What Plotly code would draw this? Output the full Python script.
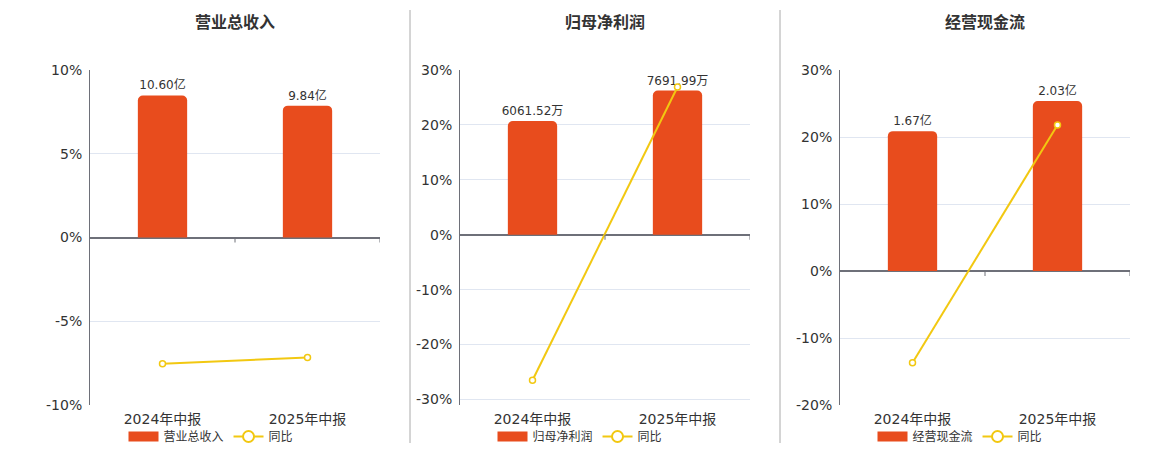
import plotly.graph_objects as go

categories = ["2024年中报", "2025年中报"]

titles = ["营业总收入", "归母净利润", "经营现金流"]

revenue = [10.60, 9.84]
revenue_labels = ["10.60亿", "9.84亿"]
revenue_yoy = [-7.53, -7.17]

profit = [6061.52, 7691.99]
profit_labels = ["6061.52万", "7691.99万"]
profit_yoy = [-26.5, 26.9]

cashflow = [1.67, 2.03]
cashflow_labels = ["1.67亿", "2.03亿"]
cashflow_yoy = [-13.7, 21.8]

pct_ranges = [[-10, 10], [-31, 30], [-20, 30]]
pct_ticks = [[-10, -5, 0, 5, 10], [-30, -20, -10, 0, 10, 20, 30], [-20, -10, 0, 10, 20, 30]]
bar_scale = [1.25, 292.9, 0.08]

OFF = 8  # page body margin
W, H = 1160 - OFF, 450 - OFF
BAR_COLOR = "#E84C1D"
LINE_COLOR = "#F2C811"
TEXT = "#333333"
AXIS = "#6E7079"
GRID = "#E0E6F1"
FONT = "DejaVu Sans, Noto Sans CJK SC, sans-serif"


def px(sx):
    return (sx - OFF) / W


def py(sy):
    return 1 - (sy - OFF) / H


panels = [
    (revenue, revenue_labels, revenue_yoy),
    (profit, profit_labels, profit_yoy),
    (cashflow, cashflow_labels, cashflow_yoy),
]
x_px = [(90, 380), (460, 750), (840, 1130)]
legend_cx = [211, 580, 960]
y_dom = [py(405), py(70)]

fig = go.Figure()
layout = {}
shapes = []
annotations = []

for i, ((vals, labels, yoy), (x0, x1)) in enumerate(zip(panels, x_px)):
    n = i + 1
    xa = "x" if n == 1 else f"x{n}"
    ybar = f"y{2 * n - 1}" if n > 1 else "y"
    ypct = f"y{2 * n}"
    xkey = "xaxis" if n == 1 else f"xaxis{n}"
    ybarkey = "yaxis" if n == 1 else f"yaxis{2 * n - 1}"
    ypctkey = f"yaxis{2 * n}"
    leg = "legend" if n == 1 else f"legend{n}"

    fig.add_trace(go.Bar(
        x=categories, y=vals, text=labels, textposition="outside",
        constraintext="none",
        textfont=dict(size=12, color=TEXT, family=FONT),
        marker=dict(color=BAR_COLOR, line=dict(width=0)),
        width=0.34, name=titles[i], xaxis=xa, yaxis=ybar,
        showlegend=False, cliponaxis=False, hoverinfo="skip",
    ))
    fig.add_trace(go.Scatter(
        x=categories, y=yoy, mode="lines+markers", name="同比",
        line=dict(color=LINE_COLOR, width=2),
        marker=dict(symbol="circle", size=6, color="white",
                    line=dict(color=LINE_COLOR, width=1.5)),
        xaxis=xa, yaxis=ypct, showlegend=False, hoverinfo="skip",
        cliponaxis=False,
    ))
    # legend entries
    fig.add_trace(go.Scatter(
        x=[None], y=[None], mode="lines", name=titles[i],
        line=dict(color=BAR_COLOR, width=13),
        xaxis=xa, yaxis=ypct, legend=leg, hoverinfo="skip",
    ))
    fig.add_trace(go.Scatter(
        x=[None], y=[None], mode="lines+markers", name="同比",
        line=dict(color=LINE_COLOR, width=2),
        marker=dict(symbol="circle", size=11, color="white",
                    line=dict(color=LINE_COLOR, width=2)),
        xaxis=xa, yaxis=ypct, legend=leg, hoverinfo="skip",
    ))

    pr = pct_ranges[i]
    layout[xkey] = dict(
        domain=[px(x0), px(x1)], anchor=ybar, type="category",
        range=[-0.5, 1.5], showgrid=False, showline=False, zeroline=False,
        ticks="", tickfont=dict(size=14, color=TEXT, family=FONT),
        ticklabelstandoff=4, automargin=False,
    )
    layout[ybarkey] = dict(
        domain=y_dom, anchor=xa,
        range=[pr[0] * bar_scale[i], pr[1] * bar_scale[i]],
        visible=False, showgrid=False, zeroline=False, automargin=False,
    )
    layout[ypctkey] = dict(
        overlaying=ybar, anchor=xa, side="left", range=pr,
        tickvals=pct_ticks[i], ticktext=[f"{v}%" for v in pct_ticks[i]],
        showgrid=True, gridcolor=GRID, gridwidth=1,
        zeroline=True, zerolinecolor=AXIS, zerolinewidth=2,
        showline=True, linecolor=AXIS, linewidth=1,
        ticks="", tickfont=dict(size=14, color=TEXT, family=FONT),
        ticklabelstandoff=4, automargin=False,
    )
    layout[leg] = dict(
        orientation="h", x=px(legend_cx[i]), xanchor="center",
        y=py(436.5), yanchor="middle", bgcolor="rgba(0,0,0,0)",
        font=dict(size=12, color=TEXT, family=FONT),
        itemwidth=30, tracegroupgap=0,
    )
    for bx in (0.5, 1.5):
        shapes.append(dict(
            type="line", xref=xa, yref=ypct, x0=bx, x1=bx,
            ysizemode="pixel", yanchor=0, y0=0, y1=-5,
            line=dict(color=AXIS, width=1),
        ))
    annotations.append(dict(
        text=f"<b>{titles[i]}</b>", xref="paper", yref="paper",
        x=px((x0 + x1) / 2), y=py(22), xanchor="center", yanchor="middle",
        showarrow=False, font=dict(size=16, color=TEXT, family=FONT),
    ))

for sx in (410, 780):
    shapes.append(dict(
        type="line", xref="paper", yref="paper",
        x0=px(sx), x1=px(sx), y0=py(10), y1=py(443),
        line=dict(color="#AAAAAA", width=1),
    ))

fig.update_layout(
    **layout,
    width=W, height=H,
    margin=dict(l=0, r=0, t=0, b=0, autoexpand=False),
    paper_bgcolor="white", plot_bgcolor="white",
    barcornerradius=5,
    shapes=shapes, annotations=annotations,
    font=dict(family=FONT, color=TEXT),
    hovermode=False,
)

fig.write_html("out.html")
